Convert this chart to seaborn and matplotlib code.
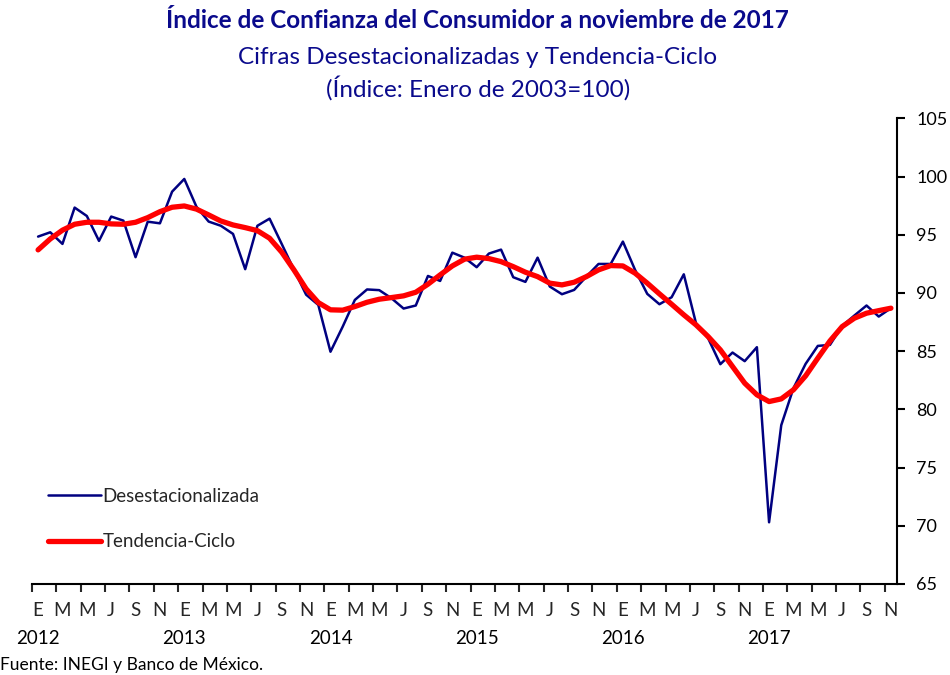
import pandas as pd
import seaborn as sns
import matplotlib.pyplot as plt
from matplotlib.transforms import blended_transform_factory

# Monthly values, Jan 2012 - Nov 2017
desestacionalizada = [94.84, 95.21, 94.21, 97.33, 96.61, 94.47, 96.56, 96.21, 93.07, 96.12, 95.98, 98.70,
                      99.79, 97.40, 96.13, 95.77, 95.07, 92.04, 95.77, 96.38, 94.20, 92.00, 89.85, 88.97,
                      84.95, 87.10, 89.40, 90.30, 90.24, 89.55, 88.66, 88.92, 91.46, 91.03, 93.46, 93.03,
                      92.21, 93.38, 93.72, 91.35, 90.95, 93.03, 90.55, 89.89, 90.26, 91.40, 92.49, 92.49,
                      94.41, 91.98, 89.92, 89.03, 89.63, 91.60, 87.40, 86.10, 83.88, 84.88, 84.14, 85.34,
                      70.30, 78.64, 81.82, 83.91, 85.45, 85.54, 87.17, 88.06, 88.92, 87.97, 88.69]
tendencia_ciclo = [93.70, 94.64, 95.39, 95.90, 96.07, 96.07, 95.93, 95.90, 96.07, 96.47, 96.98, 97.36,
                   97.47, 97.20, 96.70, 96.18, 95.84, 95.61, 95.35, 94.70, 93.50, 91.98, 90.35, 89.17,
                   88.55, 88.52, 88.83, 89.20, 89.46, 89.60, 89.75, 90.06, 90.75, 91.55, 92.32, 92.90,
                   93.07, 92.95, 92.69, 92.26, 91.78, 91.40, 90.84, 90.69, 90.92, 91.40, 91.98, 92.35,
                   92.32, 91.70, 90.84, 89.92, 89.03, 88.12, 87.26, 86.25, 85.11, 83.68, 82.25, 81.25,
                   80.67, 80.90, 81.68, 82.88, 84.40, 85.88, 87.11, 87.83, 88.26, 88.48, 88.69]
meses = ["E", "M", "M", "J", "S", "N"] * 6
anios = ["2012", "2013", "2014", "2015", "2016", "2017"]

df = pd.DataFrame({
    "mes": range(len(desestacionalizada)),
    "Desestacionalizada": desestacionalizada,
    "Tendencia-Ciclo": tendencia_ciclo,
})

sns.set_style("white")
plt.rcParams["font.family"] = ["Lato", "DejaVu Sans"]

fig = plt.figure(figsize=(9.5, 6.75), dpi=100)
ax = fig.add_axes([32 / 950, 1 - 584 / 675, 865 / 950, (584 - 118.3) / 675])

sns.lineplot(data=df, x="mes", y="Desestacionalizada", color="#000080",
             linewidth=1.8, label="Desestacionalizada", ax=ax)
sns.lineplot(data=df, x="mes", y="Tendencia-Ciclo", color="#FF0000",
             linewidth=3.8, label="Tendencia-Ciclo", ax=ax)

# axes
ax.set_xlim(-0.5, len(df) - 0.5)
ax.set_ylim(65, 105)
ax.set_yticks(range(65, 106, 5))
ax.yaxis.tick_right()
ax.tick_params(axis="y", direction="out", length=6, width=1.5, labelsize=13, pad=8,
               right=True, left=False, colors="black")
ax.set_xticks([i - 0.5 for i in range(0, len(df), 2)])
ax.set_xticklabels([])
ax.set_xticks(list(range(0, len(df), 2)), minor=True)
ax.set_xticklabels(meses, minor=True)
ax.tick_params(axis="x", which="major", direction="out", length=6, width=1.5, bottom=True)
ax.tick_params(axis="x", which="minor", length=0, labelsize=13.5, pad=13)
ax.set_xlabel("")
ax.set_ylabel("")
ax.grid(False)
for side in ["left", "top"]:
    ax.spines[side].set_visible(False)
for side in ["right", "bottom"]:
    ax.spines[side].set_color("black")
    ax.spines[side].set_linewidth(1.5)

# year labels under each "E"
trans = blended_transform_factory(ax.transData, fig.transFigure)
for k, anio in enumerate(anios):
    ax.text(12 * k, 1 - 639 / 675, anio, transform=trans, ha="center", va="center",
            fontsize=13.5, color="black")

# legend
leg = ax.legend(loc="upper left", bbox_to_anchor=(48 / 950, 1 - 488 / 675),
                bbox_transform=fig.transFigure, frameon=False, fontsize=13.5,
                handlelength=2.8, handletextpad=0.1, labelspacing=1.5,
                borderpad=0, borderaxespad=0)

# titles
navy = "#0A0A8C"
fig.text(0.503, 1 - 20 / 675, "Índice de Confianza del Consumidor a noviembre de 2017",
         ha="center", va="center", fontsize=17.5, fontweight="bold", color=navy)
fig.text(0.503, 1 - 57 / 675, "Cifras Desestacionalizadas y Tendencia-Ciclo",
         ha="center", va="center", fontsize=17.5, color=navy)
fig.text(0.503, 1 - 88 / 675, "(Índice: Enero de 2003=100)",
         ha="center", va="center", fontsize=17.5, color=navy)
fig.text(0.0, 1 - 665 / 675, "Fuente: INEGI y Banco de México.",
         ha="left", va="center", fontsize=12.5, color="black")

fig.savefig("out.png", dpi=100)
